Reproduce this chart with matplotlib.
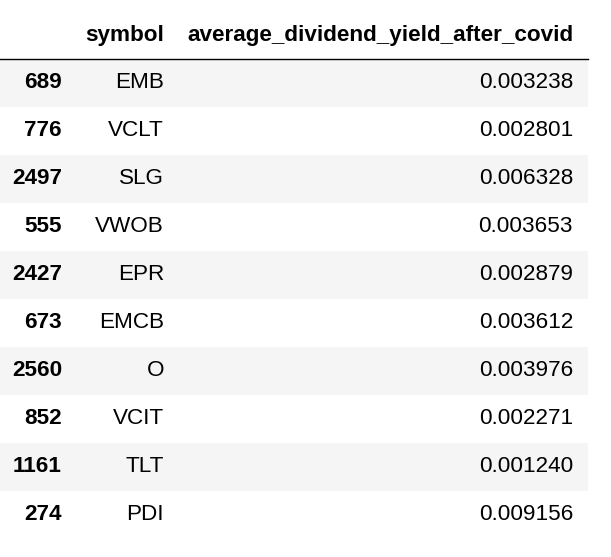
import matplotlib.pyplot as plt
from matplotlib.patches import Rectangle

columns = ["symbol", "average_dividend_yield_after_covid"]
index = ["689", "776", "2497", "555", "2427", "673", "2560", "852", "1161", "274"]
symbols = ["EMB", "VCLT", "SLG", "VWOB", "EPR", "EMCB", "O", "VCIT", "TLT", "PDI"]
yields = [0.003238, 0.002801, 0.006328, 0.003653, 0.002879,
          0.003612, 0.003976, 0.002271, 0.001240, 0.009156]

fig = plt.figure(figsize=(6.11, 5.57), dpi=100)
ax = fig.add_axes([0, 0, 1, 1])
ax.set_xlim(0, 611)
ax.set_ylim(557, 0)
ax.axis("off")

font = dict(family="Liberation Sans", fontsize=16.2, color="black", va="center", ha="right")

# header
ax.text(164, 35, columns[0], fontweight="bold", **font)
ax.text(573, 35, columns[1], fontweight="bold", **font)
ax.plot([0, 588], [59, 59], color="black", lw=1)

for i, (idx, sym, val) in enumerate(zip(index, symbols, yields)):
    y = 83 + 48 * i
    if i % 2 == 0:
        ax.add_patch(Rectangle((0, y - 24), 588, 48, color="#f5f5f5", lw=0))
    ax.text(62, y, idx, fontweight="bold", **font)
    ax.text(164, y, sym, **font)
    ax.text(573, y, f"{val:.6f}", **font)

fig.savefig("out.png", dpi=100)
